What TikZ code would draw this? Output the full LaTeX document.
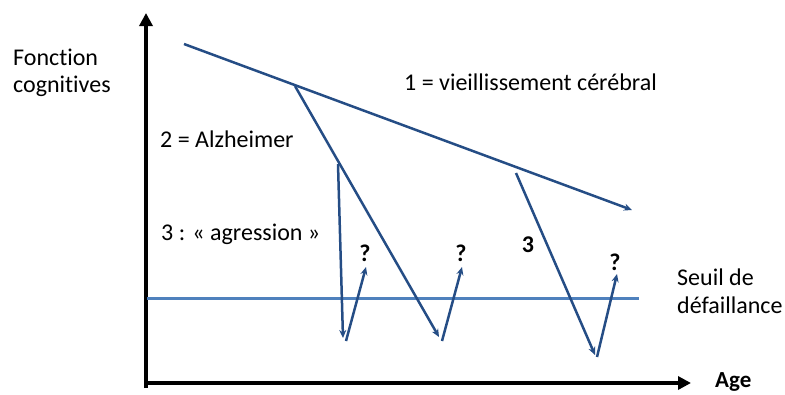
\documentclass[tikz,border=0pt]{standalone}
\usepackage{fontspec}
\setmainfont{Carlito}[Ligatures=NoCommon]
\usetikzlibrary{arrows.meta}
\definecolor{dblue}{HTML}{254D85}
\definecolor{lblue}{HTML}{4F81BD}
\tikzset{
  axis/.style={line width=4.5pt,-{Triangle[length=13pt,width=13pt]}},
  curve/.style={dblue,line width=2.5pt,-{Stealth[length=8pt,width=7pt]}},
  lbl/.style={font=\fontsize{24}{28}\selectfont,inner sep=0pt,anchor=base west},
  blbl/.style={font=\fontsize{24}{28}\selectfont\bfseries,inner sep=0pt}
}
\begin{document}
\begin{tikzpicture}[x=1pt,y=-1pt]
\useasboundingbox (0,0) rectangle (785,394);
% axes
\coordinate (ybot) at (146,388);
\coordinate (ytip) at (146,13);
\coordinate (xstart) at (146,383);
\coordinate (xtip) at (691,383);
\draw[axis] (ybot) -- (ytip);
\draw[axis] (xstart) -- (xtip);
% threshold
\coordinate (s0) at (147,298);
\coordinate (s1) at (639,298);
\draw[lblue,line width=3pt] (s0) -- (s1);
% curves
\coordinate (a0) at (184,44);
\coordinate (a1) at (632,210);
\draw[curve] (a0) -- (a1);
\coordinate (b0) at (295,86);
\coordinate (b1) at (439,337);
\draw[curve] (b0) -- (b1);
\coordinate (c0) at (338,164);
\coordinate (c1) at (343,338);
\draw[curve] (c0) -- (c1);
\coordinate (d0) at (346,341);
\coordinate (d1) at (366,267);
\draw[curve] (d0) -- (d1);
\coordinate (e0) at (442,341);
\coordinate (e1) at (462,267);
\draw[curve] (e0) -- (e1);
\coordinate (f0) at (516,173);
\coordinate (f1) at (595,355);
\draw[curve] (f0) -- (f1);
\coordinate (g0) at (597,357);
\coordinate (g1) at (617,274);
\draw[curve] (g0) -- (g1);
% labels
\node[lbl] (fc1) at (13,65) {Fonction};
\node[lbl] (fc2) at (13,92) {cognitives};
\node[lbl] (l1) at (404,90) {1 = vieillissement cérébral};
\node[lbl] (l2) at (160,147) {2 = Alzheimer};
\node[lbl] (l3) at (161,240) {3 : « agression »};
\node[lbl] (seuil1) at (677,285) {Seuil de};
\node[lbl] (seuil2) at (677,313) {défaillance};
\node[blbl,anchor=base west,font=\fontsize{23}{27}\selectfont\bfseries] (age) at (715,387) {Age};
\node[blbl] (q1) at (365,253) {?};
\node[blbl] (q2) at (461,253) {?};
\node[blbl] (q3) at (615,262) {?};
\node[blbl] (n3) at (528,245) {3};
\end{tikzpicture}
\end{document}
